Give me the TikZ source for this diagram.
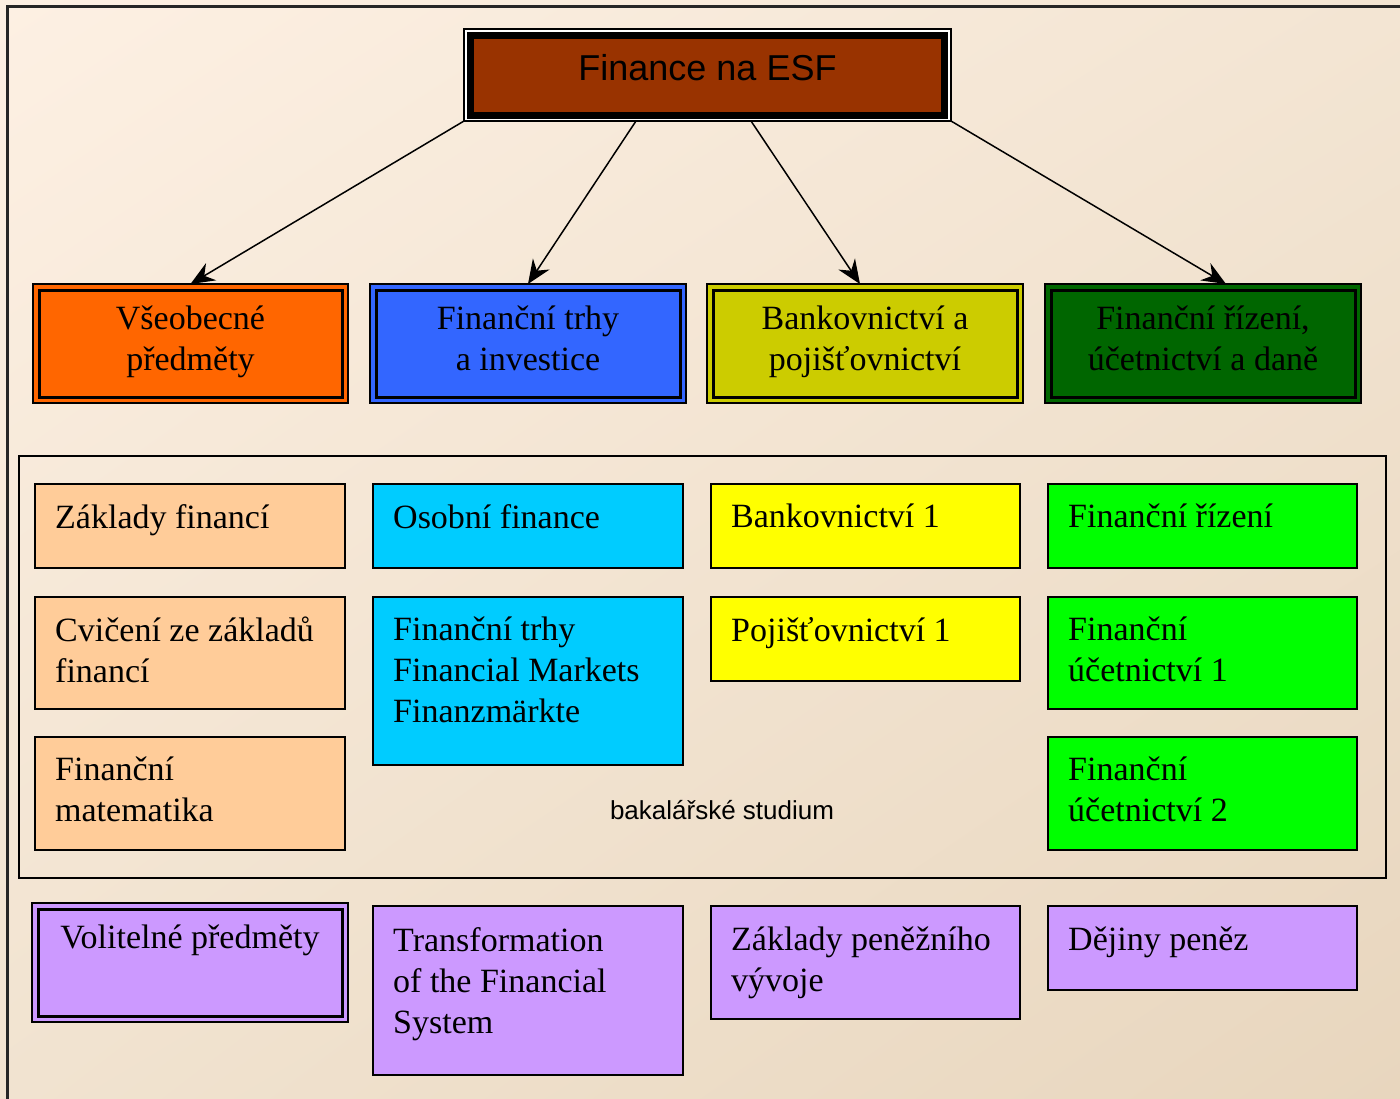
\documentclass[tikz,border=0pt]{standalone}
\usepackage{fontspec}
\setmainfont{Liberation Serif}
\setsansfont{Liberation Sans}
\usetikzlibrary{arrows.meta,shadings}

\definecolor{bgtl}{HTML}{FDF0E3}
\definecolor{bgtr}{HTML}{F3E5D3}
\definecolor{bgbl}{HTML}{F1E3D0}
\definecolor{bgbr}{HTML}{E8D6BE}
\definecolor{esfbrown}{HTML}{993300}
\definecolor{genorange}{HTML}{FF6600}
\definecolor{invblue}{HTML}{3366FF}
\definecolor{bankolive}{HTML}{CCCC00}
\definecolor{accgreen}{HTML}{006600}
\definecolor{peach}{HTML}{FFCC99}
\definecolor{skycyan}{HTML}{00CCFF}
\definecolor{lemon}{HTML}{FFFF00}
\definecolor{lime}{HTML}{00FF00}
\definecolor{lilac}{HTML}{CC99FF}

\begin{document}
\begin{tikzpicture}[x=1pt, y=-1pt,
    rim/.style={draw=black, line width=1.5pt, inner sep=0pt, outer sep=0pt},
    heavy/.style={draw=black, line width=3pt, inner sep=0pt, outer sep=0pt},
    cattext/.style={align=center, font=\fontsize{34}{41}\selectfont, text depth=11.5pt},
    subj/.style={draw=black, line width=1.5pt, anchor=north west, inner sep=0pt, outer sep=0pt},
    subjtext/.style={anchor=north west, inner sep=0pt, align=left, font=\fontsize{34}{41}\selectfont},
    link/.style={draw=black, line width=1.5pt, -{Stealth[length=24pt, width=20pt, inset=8pt]}}]

    % background and outer frame
    \useasboundingbox (0,0) rectangle (1400,1098);
    \shade[upper left=bgtl, upper right=bgtr, lower left=bgbl, lower right=bgbr]
    (0,0) rectangle (1400,1098);
    \draw[line width=2.5pt, black!85] (7.5,1100) -- (7.5,6.5) -- (1402,6.5);

    % top
    \node[rim, fill=white, minimum width=487, minimum height=92] (esf) at (707.5,75) {};
    \node[heavy, line width=7pt, fill=esfbrown, minimum width=474, minimum height=80,
      font=\sffamily\fontsize{36}{43}\selectfont, text depth=14.6pt] (esf-in) at (esf) {Finance na ESF};

    % study fields
    \node[rim, fill=genorange, minimum width=315, minimum height=119] (gen) at (190.5,343.5) {};
    \node[heavy, cattext, minimum width=303, minimum height=107] (gen-in) at (gen) {Všeobecné\\předměty};
    \node[rim, fill=invblue, minimum width=316, minimum height=119] (inv) at (528,343.5) {};
    \node[heavy, cattext, minimum width=304, minimum height=107] (inv-in) at (inv) {Finanční trhy\\a investice};
    \node[rim, fill=bankolive, minimum width=316, minimum height=119] (bank) at (865,343.5) {};
    \node[heavy, cattext, minimum width=304, minimum height=107] (bank-in) at (bank) {Bankovnictví a\\pojišťovnictví};
    \node[rim, fill=accgreen, minimum width=316, minimum height=119] (acc) at (1203,343.5) {};
    \node[heavy, cattext, minimum width=304, minimum height=107] (acc-in) at (acc) {Finanční řízení,\\účetnictví a daně};

    \draw[link] (esf.south west) -- (gen.north);
    \draw[link] ([xshift=-71.5pt]esf.south) -- (inv.north);
    \draw[link] ([xshift=43.5pt]esf.south) -- ([xshift=-5pt]bank.north);
    \draw[link] (esf.south east) -- ([xshift=23pt]acc.north);

    % bachelor courses
    \node[rim, minimum width=1367, minimum height=422] (bach) at (702.5,667) {};
    \node[font=\sffamily\fontsize{26}{31}\selectfont] (bach-t) at (722,810) {bakalářské studium};

    \node[subj, fill=peach, minimum width=310, minimum height=84] (zf) at (35,484) {};
    \node[subjtext] (zf-t) at ([shift={(20,20)}]zf.north west) {Základy financí};
    \node[subj, fill=peach, minimum width=310, minimum height=112] (cz) at (35,597) {};
    \node[subjtext] (cz-t) at ([shift={(20,20)}]cz.north west) {Cvičení ze základů\\financí};
    \node[subj, fill=peach, minimum width=310, minimum height=113] (fm) at (35,737) {};
    \node[subjtext] (fm-t) at ([shift={(20,20)}]fm.north west) {Finanční\\matematika};

    \node[subj, fill=skycyan, minimum width=310, minimum height=84] (of) at (373,484) {};
    \node[subjtext] (of-t) at ([shift={(20,20)}]of.north west) {Osobní finance};
    \node[subj, fill=skycyan, minimum width=310, minimum height=168] (ft) at (373,597) {};
    \node[subjtext] (ft-t) at ([shift={(20,20)}]ft.north west) {Finanční trhy\\Financial Markets\\Finanzmärkte};

    \node[subj, fill=lemon, minimum width=309, minimum height=84] (b1) at (711,484) {};
    \node[subjtext] (b1-t) at ([shift={(20,20)}]b1.north west) {Bankovnictví 1};
    \node[subj, fill=lemon, minimum width=309, minimum height=84] (p1) at (711,597) {};
    \node[subjtext] (p1-t) at ([shift={(20,20)}]p1.north west) {Pojišťovnictví 1};

    \node[subj, fill=lime, minimum width=309, minimum height=84] (fr) at (1048,484) {};
    \node[subjtext] (fr-t) at ([shift={(20,20)}]fr.north west) {Finanční řízení};
    \node[subj, fill=lime, minimum width=309, minimum height=112] (fu1) at (1048,597) {};
    \node[subjtext] (fu1-t) at ([shift={(20,20)}]fu1.north west) {Finanční\\účetnictví 1};
    \node[subj, fill=lime, minimum width=309, minimum height=113] (fu2) at (1048,737) {};
    \node[subjtext] (fu2-t) at ([shift={(20,20)}]fu2.north west) {Finanční\\účetnictví 2};

    % electives
    \node[rim, fill=lilac, minimum width=316, minimum height=119] (vol) at (190,962.5) {};
    \node[heavy, minimum width=304, minimum height=107] (vol-in) at (vol) {};
    \node[anchor=north, inner sep=0pt, font=\fontsize{34}{41}\selectfont] (vol-t) at ([yshift=-22pt]vol.north) {Volitelné předměty};

    \node[subj, fill=lilac, minimum width=310, minimum height=169] (tfs) at (373,906) {};
    \node[subjtext] (tfs-t) at ([shift={(20,21)}]tfs.north west) {Transformation\\of the Financial\\System};
    \node[subj, fill=lilac, minimum width=309, minimum height=113] (zpv) at (711,906) {};
    \node[subjtext] (zpv-t) at ([shift={(20,21)}]zpv.north west) {Základy peněžního\\vývoje};
    \node[subj, fill=lilac, minimum width=309, minimum height=84] (dp) at (1048,906) {};
    \node[subjtext] (dp-t) at ([shift={(20,21)}]dp.north west) {Dějiny peněz};

  \end{tikzpicture}
\end{document}
